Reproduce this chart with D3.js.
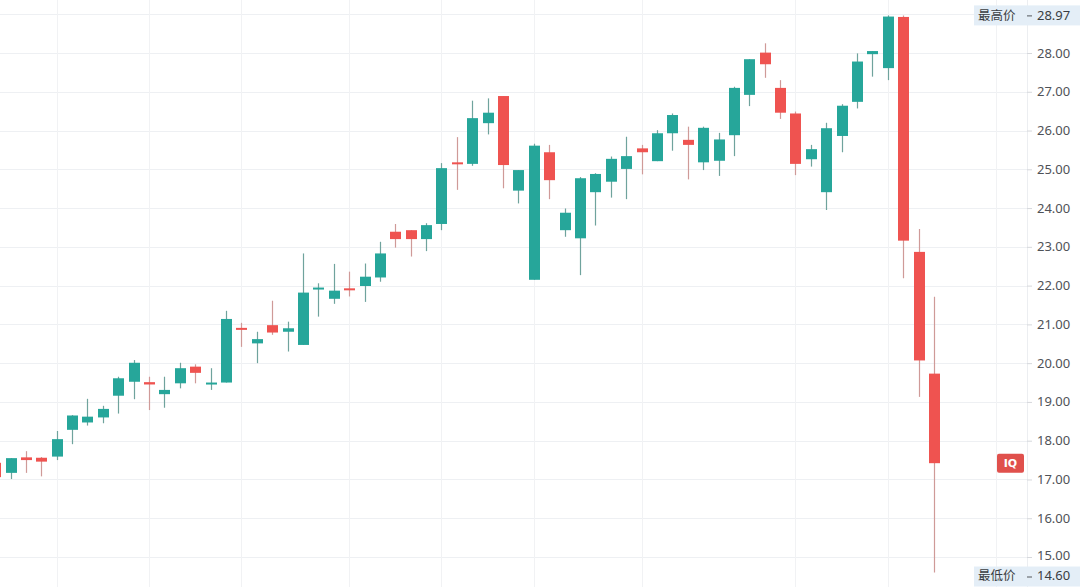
<!DOCTYPE html>
<html><head><meta charset="utf-8">
<script src="https://cdn.jsdelivr.net/npm/d3@7/dist/d3.min.js"></script>
<style>
html,body{margin:0;padding:0;background:#fff;}
svg{display:block;}
</style></head>
<body>
<svg id="c" width="1080" height="587"></svg>
<script>
// Candle data (index 1..62)
const idx   = d3.range(1, 63);
const open  = [17.43,17.17,17.57,17.56,17.59,18.28,18.47,18.60,19.16,19.52,19.51,19.20,19.48,19.91,19.45,19.50,20.91,20.51,20.98,20.81,20.47,21.92,21.66,21.93,21.99,22.21,23.39,23.43,23.20,23.59,25.18,25.14,26.19,26.89,24.45,22.15,25.44,23.43,23.22,24.41,24.68,25.01,25.54,25.21,25.93,25.76,25.18,25.22,25.88,26.92,28.01,27.10,26.44,25.26,24.41,25.86,26.74,27.97,27.61,28.93,22.87,19.73];
const high  = [17.50,17.55,17.73,17.58,18.25,18.66,19.08,18.90,19.65,20.08,19.65,19.65,20.01,19.97,19.87,21.35,21.04,20.81,21.61,21.07,22.83,22.06,22.56,22.36,22.57,23.13,23.59,23.43,23.61,25.16,25.83,26.77,26.83,26.89,24.98,25.66,25.63,23.99,24.80,24.90,25.33,25.84,25.63,26.01,26.44,26.10,26.10,25.94,27.13,27.84,28.25,27.30,26.49,25.63,26.20,26.68,27.99,28.05,28.97,28.97,23.46,21.71];
const low   = [17.00,17.01,17.17,17.08,17.50,17.91,18.39,18.45,18.70,19.07,18.79,18.85,19.35,19.48,19.31,19.50,20.42,20.00,20.73,20.30,20.47,21.20,21.53,21.72,21.58,22.10,22.98,22.75,22.89,23.43,24.47,25.09,25.90,24.51,24.12,22.15,24.23,23.26,22.27,23.55,24.27,24.23,24.87,25.21,25.48,24.74,24.98,24.83,25.34,26.63,27.36,26.30,24.85,25.07,23.95,25.44,26.57,27.39,27.30,22.19,19.13,14.60];
const close = [17.06,17.55,17.50,17.46,18.04,18.65,18.62,18.82,19.61,20.01,19.45,19.31,19.87,19.75,19.50,21.14,20.86,20.62,20.79,20.90,21.82,21.95,21.87,21.89,22.23,22.83,23.20,23.20,23.56,25.03,25.14,26.32,26.46,25.11,24.98,25.61,24.72,23.88,24.77,24.88,25.27,25.34,25.44,25.93,26.40,25.63,26.07,25.77,27.10,27.84,27.71,26.46,25.14,25.52,26.06,26.64,27.78,28.05,28.94,23.16,20.07,17.42];
const yTicks = d3.range(15, 29);           // 15.00 ... 28.00 labels
const yGrid  = d3.range(15, 30);           // grid lines 15 ... 29
const xGridIdx = [5, 11, 17, 24, 30, 36, 43, 53, 59, 66];
const extremes = [{label: "最高价", value: 28.97}, {label: "最低价", value: 14.60}];
const symbol = "IQ";

const UP = "#26a69a", DOWN = "#ef5350";
const UPW = "#6fa39d", DOWNW = "#cf9a98";

const svg = d3.select("#c");
const W = 1080, H = 587, plotR = 1027;

const x = d3.scaleLinear().domain([2, 62]).range([10.5, 934]);
const y = d3.scaleLinear().domain([15, 28]).range([557, 53]);
const bodyW = 11;

const data = idx.map((d, i) => ({i: d, o: open[i], h: high[i], l: low[i], c: close[i]}));

// grid
const g = svg.append("g");
g.selectAll("line.h").data(yGrid).join("line")
  .attr("x1", 0).attr("x2", plotR).attr("y1", d => Math.round(y(d)) + 0.5).attr("y2", d => Math.round(y(d)) + 0.5)
  .attr("stroke", "#eef0f3").attr("stroke-width", 1);
g.selectAll("line.v").data(xGridIdx).join("line")
  .attr("x1", d => Math.round(x(d)) + 0.5).attr("x2", d => Math.round(x(d)) + 0.5)
  .attr("y1", 0).attr("y2", H)
  .attr("stroke", "#f1f2f4").attr("stroke-width", 1);

// axis separator
svg.append("line").attr("x1", plotR + 0.5).attr("x2", plotR + 0.5).attr("y1", 0).attr("y2", H)
  .attr("stroke", "#eceef1");

// candles
const cg = svg.append("g");
cg.selectAll("line.w").data(data).join("line")
  .attr("x1", d => Math.round(x(d.i)) + 0.5).attr("x2", d => Math.round(x(d.i)) + 0.5)
  .attr("y1", d => y(d.h)).attr("y2", d => y(d.l))
  .attr("stroke", d => d.c >= d.o ? UPW : DOWNW).attr("stroke-width", 1.2);
cg.selectAll("rect.b").data(data).join("rect")
  .attr("x", d => Math.round(x(d.i)) + 0.5 - bodyW / 2)
  .attr("width", bodyW)
  .attr("y", d => y(Math.max(d.o, d.c)))
  .attr("height", d => Math.max(2, Math.abs(y(d.o) - y(d.c))))
  .attr("fill", d => d.c >= d.o ? UP : DOWN);

// y axis labels
const ax = svg.append("g").attr("font-family", "'Noto Sans', sans-serif").attr("font-size", 13);
ax.selectAll("line.t").data(yTicks).join("line")
  .attr("x1", plotR).attr("x2", plotR + 5).attr("y1", d => y(d) + 0.5).attr("y2", d => y(d) + 0.5)
  .attr("stroke", "#d6d8dc");
ax.selectAll("text.t").data(yTicks).join("text")
  .attr("x", plotR + 10).attr("y", d => y(d)).attr("dy", d => d === 15 ? "0.2em" : "0.35em")
  .attr("fill", "#4f5257").text(d => d.toFixed(2));

// extremes labels
const eg = svg.append("g").attr("font-family", "'Noto Sans', 'Noto Sans CJK SC', sans-serif").attr("font-size", 13);
const ee = eg.selectAll("g").data(extremes).join("g").attr("transform", d => `translate(0,${y(d.value)})`);
ee.append("rect").attr("x", 974).attr("y", (d, i) => i === 0 ? -10 : -6).attr("width", W - 974).attr("height", 20).attr("fill", "#e4eef7");
ee.append("text").attr("x", 978).attr("dy", (d, i) => i === 0 ? "0.35em" : "0.6em").attr("fill", "#3a3d42")
  .attr("font-family", "'Noto Sans CJK SC', sans-serif").attr("font-size", 12.5).text(d => d.label);
ee.append("line").attr("x1", plotR).attr("x2", plotR + 5).attr("y1", (d, i) => i === 0 ? 0.5 : 4.5).attr("y2", (d, i) => i === 0 ? 0.5 : 4.5).attr("stroke", "#55585d");
ee.append("text").attr("x", plotR + 10).attr("dy", (d, i) => i === 0 ? "0.35em" : "0.6em").attr("fill", "#3a3d42").text(d => d.value.toFixed(2));

// symbol tag at last close
const last = data[data.length - 1];
const tg = svg.append("g").attr("transform", `translate(0,${y(last.c)})`);
tg.append("rect").attr("x", 997).attr("y", -9.5).attr("width", 27).attr("height", 19).attr("rx", 2).attr("fill", "#e0504c");
tg.append("text").attr("x", 1010.5).attr("dy", "0.35em").attr("text-anchor", "middle")
  .attr("font-family", "'DejaVu Sans', sans-serif").attr("font-size", 11).attr("font-weight", "bold")
  .attr("fill", "#fff").text(symbol);
</script>
</body></html>
